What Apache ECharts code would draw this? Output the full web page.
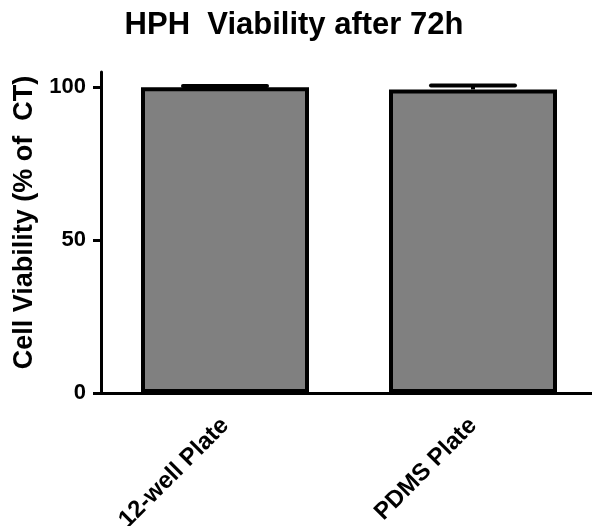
<!DOCTYPE html>
<html>
<head>
<meta charset="utf-8">
<script src="https://cdn.jsdelivr.net/npm/echarts@6/dist/echarts.min.js"></script>
<style>
  html, body { margin: 0; padding: 0; background: #fff; }
  #chart { width: 592px; height: 526px; }
</style>
</head>
<body>
<div id="chart"></div>
<script>
// data
let categories = ['12-well Plate', 'PDMS Plate'];
let viability = [100.0, 99.3];  // bar heights (% of CT)
let errUp = [0.4, 1.3];         // upper error (SEM)
let yTicks = [0, 50, 100];

let font = 'Liberation Sans, Arial, Helvetica, sans-serif';

let errData = categories.map(function (c, i) { return [i, viability[i], viability[i] + errUp[i]]; });

var myChart = echarts.init(document.getElementById('chart'));
option = {
  animation: false,
  backgroundColor: '#fff',
  title: {
    text: 'HPH  Viability after 72h',
    left: 289, top: 5, textAlign: 'center',
    textStyle: { fontFamily: font, fontWeight: 'bold', fontSize: 31, color: '#000' }
  },
  grid: { left: 101, width: 496, top: 72, bottom: 133, outerBoundsMode: 'none', containLabel: false },
  xAxis: {
    type: 'category',
    data: categories,
    axisLine: { lineStyle: { color: '#000', width: 3 } },
    axisTick: { alignWithLabel: true, length: 8, lineStyle: { color: '#000', width: 3 } },
    axisLabel: { rotate: 45, margin: 29, color: '#000', fontFamily: font, fontWeight: 'bold', fontSize: 24 }
  },
  yAxis: {
    type: 'value',
    min: 0, max: 105, interval: 50,
    name: 'Cell Viability (% of  CT)',
    nameLocation: 'middle',
    nameGap: 62,
    nameTextStyle: { fontFamily: font, fontWeight: 'bold', fontSize: 27, color: '#000', padding: [0, 0, 0, 20] },
    splitLine: { show: false },
    axisLine: { show: true, lineStyle: { color: '#000', width: 3 } },
    axisTick: { show: true, length: 8, customValues: yTicks, lineStyle: { color: '#000', width: 3 } },
    axisLabel: { margin: 15, customValues: yTicks, color: '#000', fontFamily: font, fontWeight: 'bold', fontSize: 22 }
  },
  series: [
    {
      type: 'bar',
      data: viability,
      barWidth: 168,
      itemStyle: { color: '#808080', borderColor: '#000', borderWidth: 4 }
    },
    {
      type: 'custom',
      data: errData,
      z: 3,
      renderItem: function (params, api) {
        var base = api.coord([api.value(0), api.value(1)]);
        var top = api.coord([api.value(0), api.value(2)]);
        var half = 42;
        return {
          type: 'group',
          children: [
            { type: 'line', shape: { x1: base[0], y1: base[1], x2: top[0], y2: top[1] },
              style: { stroke: '#000', lineWidth: 4 } },
            { type: 'line', shape: { x1: top[0] - half, y1: top[1], x2: top[0] + half, y2: top[1] },
              style: { stroke: '#000', lineWidth: 4, lineCap: 'round' } }
          ]
        };
      }
    }
  ]
};
myChart.setOption(option);
</script>
</body>
</html>
